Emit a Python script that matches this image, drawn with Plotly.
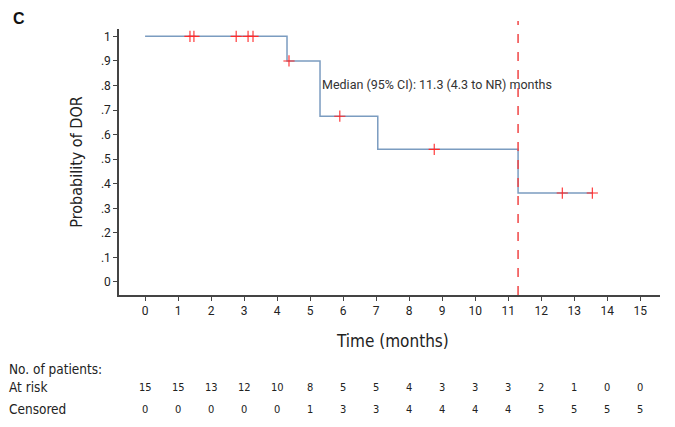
import plotly.graph_objects as go

# Kaplan-Meier step curve (time in months, survival probability)
step_times = [0, 4.3, 4.3, 5.3, 5.3, 7.05, 7.05, 11.3, 11.3, 13.55]
step_probs = [1.0, 1.0, 0.9, 0.9, 0.675, 0.675, 0.54, 0.54, 0.362, 0.362]

# censor marks
censor_times = [1.36, 1.48, 2.76, 3.12, 3.27, 4.36, 5.9, 8.76, 12.64, 13.55]
censor_probs = [1.0, 1.0, 1.0, 1.0, 1.0, 0.9, 0.675, 0.54, 0.362, 0.362]

median_time = 11.3
median_label = "Median (95% CI): 11.3 (4.3 to NR) months"

x_ticks = list(range(0, 16))
y_ticks = [0, 0.1, 0.2, 0.3, 0.4, 0.5, 0.6, 0.7, 0.8, 0.9, 1.0]
y_tick_labels = ["0", ".1", ".2", ".3", ".4", ".5", ".6", ".7", ".8", ".9", "1"]

at_risk = [15, 15, 13, 12, 10, 8, 5, 5, 4, 3, 3, 3, 2, 1, 0, 0]
censored = [0, 0, 0, 0, 0, 1, 3, 3, 4, 4, 4, 4, 5, 5, 5, 5]

narrow = "DejaVu Sans Condensed, Liberation Sans Narrow, Roboto, sans-serif"
tickfont = dict(family="Roboto, sans-serif", size=12, color="#222")

fig = go.Figure()
fig.add_trace(go.Scatter(x=step_times, y=step_probs, mode="lines",
                         line=dict(color="#7b9cc0", width=1.5), hoverinfo="skip"))
fig.add_trace(go.Scatter(x=censor_times, y=censor_probs, mode="markers",
                         marker=dict(symbol="cross-thin-open", size=8, color="#ff2a2a",
                                     line=dict(color="#ff2a2a", width=1.1)),
                         hoverinfo="skip"))

# median dashed line
fig.add_shape(type="line", xref="x", yref="paper", x0=median_time, x1=median_time,
              y0=0, y1=1.03, line=dict(color="#f04545", width=1.5, dash="dash"))

fig.add_annotation(x=5.3, y=0.805, xref="x", yref="y", text=median_label,
                   showarrow=False, xanchor="left", yanchor="middle",
                   font=dict(family="Roboto, sans-serif", size=12.5, color="#333"))

fig.add_annotation(x=-0.2, y=1.079, xref="paper", yref="paper", text="<b>C</b>",
                   showarrow=False, xanchor="left", yanchor="top",
                   font=dict(family="Liberation Sans, Arial, sans-serif", size=16, color="#111"))

fig.add_annotation(x=7.5, y=-0.173, xref="x", yref="paper", text="Time (months)",
                   showarrow=False, xanchor="center", yanchor="middle",
                   font=dict(family=narrow, size=17, color="#222"))

for label, py in [("No. of patients:", -0.278), ("At risk", -0.346), ("Censored", -0.429)]:
    fig.add_annotation(x=-0.207, y=py, xref="paper", yref="paper", text=label,
                       showarrow=False, xanchor="left", yanchor="middle",
                       font=dict(family=narrow, size=13.5, color="#222"))

for t, r, c in zip(x_ticks, at_risk, censored):
    fig.add_annotation(x=t, y=-0.346, xref="x", yref="paper", text=str(r),
                       showarrow=False, xanchor="center", yanchor="middle",
                       font=dict(family=narrow, size=11, color="#222"))
    fig.add_annotation(x=t, y=-0.429, xref="x", yref="paper", text=str(c),
                       showarrow=False, xanchor="center", yanchor="middle",
                       font=dict(family=narrow, size=11, color="#222"))

fig.update_layout(
    width=667, height=419,
    margin=dict(l=111, r=15, t=21, b=132),
    paper_bgcolor="white", plot_bgcolor="white",
    showlegend=False,
    xaxis=dict(range=[-0.79, 15.6], tickvals=x_ticks, ticks="outside", ticklen=4,
               tickcolor="#444", showline=True, linecolor="#444", linewidth=1.5,
               showgrid=False, zeroline=False, tickfont=tickfont, automargin=False),
    yaxis=dict(range=[-0.053, 1.03], tickvals=y_ticks, ticktext=y_tick_labels,
               ticks="outside", ticklen=4, tickcolor="#444", showline=True,
               linecolor="#444", linewidth=1.5, showgrid=False, zeroline=False,
               tickfont=tickfont, automargin=False,
               title=dict(text="Probability of DOR", standoff=14,
                          font=dict(family=narrow, size=16, color="#222"))),
)

fig.write_html("out.html")
